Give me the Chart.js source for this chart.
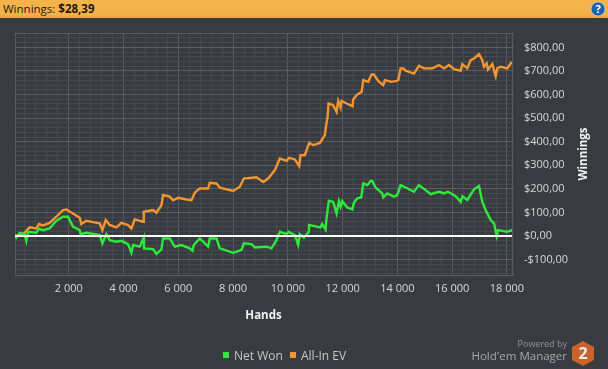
<!DOCTYPE html>
<html>
<head>
<meta charset="utf-8">
<title>Winnings</title>
<script src="https://cdn.jsdelivr.net/npm/chart.js@4"></script>
<style>
  html, body { margin: 0; padding: 0; background: #383c40; overflow: hidden; }
  body { width: 608px; height: 369px; position: relative; font-family: "Open Sans", sans-serif; }
  canvas { position: absolute; left: 0; top: 0; }
  .topbar { position: absolute; left: 0; top: 0; width: 608px; height: 18px; background: linear-gradient(#f6b34c 0, #f5b14a 80%, #e9a543 100%); color: #1d1a12; font-size: 11.5px; line-height: 18px; text-indent: 3px; }
  .help { position: absolute; left: 590px; top: 1px; }
  .y-title { position: absolute; left: 553px; top: 144px; width: 60px; height: 20px; line-height: 20px; text-align: center; transform: rotate(-90deg); color: #f0f0f0; font-size: 11.5px; font-weight: bold; }
  .legend span { position: absolute; top: 347px; color: #c4c6c8; font-size: 12px; line-height: 18px; white-space: nowrap; }
  .legend i { position: absolute; top: 352px; width: 6px; height: 6px; }
  .powered { position: absolute; right: 41px; top: 337px; color: #8e9194; font-size: 9px; line-height: 14px; }
  .manager { position: absolute; right: 41px; top: 347px; color: #a6a8aa; font-size: 11.5px; line-height: 18px; white-space: nowrap; }
  .logo { position: absolute; left: 571px; top: 341px; }
</style>
</head>
<body>
<canvas id="myChart" width="608" height="369"></canvas>
<div class="topbar">Winnings: <b>$28,39</b></div>
<svg class="help" width="16" height="16" viewBox="0 0 16 16">
  <circle cx="8" cy="8" r="7" fill="#1c62a8" stroke="#dfe6ec" stroke-width="0.6"/>
  <text x="8" y="12" text-anchor="middle" font-family="Open Sans" font-weight="bold" font-size="11" fill="#fff">?</text>
</svg>
<div class="y-title">Winnings</div>
<div class="legend" id="legend"></div>
<div class="powered">Powered by</div>
<div class="manager">Hold'em Manager</div>
<svg class="logo" width="24" height="25" viewBox="0 0 24 25">
  <polygon points="12,0 23,6 23,19 12,25 1,19 1,6" fill="#c9622b"/>
  <text x="12" y="18" text-anchor="middle" font-family="Open Sans" font-weight="bold" font-size="16" fill="#eee">2</text>
</svg>

<script>
const evHands = [40, 207, 390, 572, 816, 913, 1060, 1303, 1547, 1790, 1912, 2095, 2400, 2460, 2643, 2887, 3130, 3228, 3350, 3496, 3739, 3922, 4166, 4287, 4409, 4714, 4738, 5079, 5201, 5384, 5444, 5688, 5810, 5993, 6297, 6480, 6602, 6784, 7088, 7150, 7393, 7515, 8002, 8246, 8392, 8855, 9098, 9281, 9525, 9707, 9951, 10048, 10256, 10413, 10463, 10620, 10779, 10925, 11168, 11351, 11388, 11450, 11486, 11654, 11778, 11838, 11925, 11961, 12143, 12362, 12385, 12531, 12692, 12752, 12934, 13056, 13140, 13298, 13481, 13542, 13787, 13970, 14031, 14116, 14214, 14299, 14603, 14786, 14969, 15273, 15517, 15700, 15882, 16065, 16309, 16370, 16552, 16674, 16796, 16978, 17100, 17161, 17259, 17307, 17466, 17587, 17648, 17770, 18014, 18180];
const evValues = [0, 4, 14, 37, 32, 51, 45, 56, 82, 110, 113, 100, 78, 51, 65, 59, 54, 25, 68, 47, 37, 56, 47, 32, 71, 61, 103, 110, 99, 131, 174, 167, 152, 162, 155, 152, 184, 202, 202, 226, 223, 205, 191, 209, 244, 249, 229, 244, 280, 329, 319, 332, 325, 297, 343, 343, 395, 386, 395, 428, 463, 505, 562, 555, 527, 573, 545, 573, 562, 551, 579, 600, 611, 661, 654, 685, 685, 658, 640, 661, 654, 658, 661, 711, 711, 701, 689, 722, 711, 711, 725, 711, 725, 708, 701, 729, 711, 746, 753, 771, 746, 718, 732, 706, 729, 678, 711, 718, 711, 739];

const netHands = [40, 85, 207, 390, 451, 512, 816, 913, 1060, 1303, 1547, 1790, 1973, 2156, 2400, 2436, 2643, 3130, 3228, 3374, 3496, 3739, 3922, 4166, 4287, 4348, 4592, 4738, 4745, 5079, 5201, 5384, 5444, 5688, 5871, 6114, 6419, 6516, 6565, 6784, 7088, 7150, 7393, 7515, 8002, 8307, 8392, 8672, 8794, 9220, 9403, 9585, 9707, 9951, 10024, 10255, 10377, 10438, 10584, 10767, 10775, 11193, 11254, 11376, 11412, 11498, 11656, 11778, 11863, 11924, 11985, 12168, 12350, 12411, 12533, 12679, 12752, 12898, 13020, 13081, 13203, 13446, 13483, 13629, 13873, 13994, 14116, 14299, 14603, 14786, 15030, 15212, 15517, 15700, 15846, 16126, 16309, 16370, 16552, 16796, 16978, 17100, 17222, 17405, 17527, 17624, 17673, 18014, 18160, 18180];
const netValues = [0, -7, 14, 8, -20, 18, 14, 32, 25, 32, 65, 82, 82, 40, 25, 8, 14, 4, -31, 8, -17, -24, -20, -34, -71, -38, -45, -6, -52, -55, -76, -56, -10, -10, -45, -38, -52, -62, -38, -10, -45, -10, -10, -52, -71, -59, -31, -34, -48, -45, -52, -17, 18, 8, 18, 4, -38, 8, -6, 18, 47, 37, 51, 28, 75, 150, 145, 96, 148, 124, 148, 121, 113, 141, 160, 164, 223, 216, 234, 234, 206, 181, 164, 181, 167, 174, 216, 206, 188, 216, 195, 178, 188, 181, 188, 169, 145, 169, 153, 198, 212, 145, 110, 68, 54, 0, 25, 18, 25, 23];

const zeroHands = [38, 18183];
const zeroValues = [0, 0];

const xMin = 38, xMax = 18183, yMin = -165, yMax = 861;
const xMajor = 2000, xMinor = 400, yMajor = 100, yMinor = 20;

const netColor = '#2ee83c';
const evColor = '#f5952f';
const gridMajor = '#5a5e62';
const gridMinor = '#46494d';
const tickColor = '#d6d8da';

function toPoints(xs, ys) {
  return xs.map((x, i) => ({ x: x, y: ys[i] }));
}

function isBig(value, step, min, max) {
  return value % step === 0 || value === min || value === max;
}

function money(v) {
  return (v < 0 ? '-$' : '$') + Math.abs(v) + ',00';
}

function thousands(v) {
  return String(v / 1000) + ' 000';
}

// chart.js starts the steps from min here, so lay them out on round values
function roundTicks(scale, step) {
  const list = [{ value: scale.min }];
  for (let v = Math.ceil(scale.min / step) * step; v < scale.max; v += step) {
    if (v !== scale.min) list.push({ value: v });
  }
  list.push({ value: scale.max });
  scale.ticks = list;
}

const chart = new Chart('myChart', {
  type: 'line',
  data: {
    datasets: [
      { label: 'Zero', data: toPoints(zeroHands, zeroValues), borderColor: '#ffffff', borderWidth: 2, pointRadius: 0, order: 0 },
      { label: 'Net Won', data: toPoints(netHands, netValues), borderColor: netColor, backgroundColor: netColor, borderWidth: 2.4, pointRadius: 0, order: 1 },
      { label: 'All-In EV', data: toPoints(evHands, evValues), borderColor: evColor, backgroundColor: evColor, borderWidth: 2.4, pointRadius: 0, order: 2 }
    ]
  },
  options: {
    responsive: false,
    animation: false,
    devicePixelRatio: 1,
    layout: { padding: { left: 15, top: 33, right: 0, bottom: 46 } },
    plugins: { legend: { display: false }, tooltip: { enabled: false } },
    scales: {
      x: {
        type: 'linear',
        min: xMin,
        max: xMax,
        afterBuildTicks: scale => roundTicks(scale, xMinor),
        afterFit: scale => { scale.height = 48; },
        title: { display: true, text: 'Hands', color: '#f0f0f0', font: { family: 'Open Sans', size: 11.5, weight: 'bold' }, padding: 0 },
        grid: {
          drawTicks: false,
          color: c => isBig(c.tick.value, xMajor, xMin, xMax) ? gridMajor : gridMinor
        },
        border: { display: false },
        ticks: {
          autoSkip: false,
          maxRotation: 0,
          padding: 7,
          color: tickColor,
          font: { family: 'Open Sans', size: 11 },
          callback: v => (v % xMajor === 0 && v !== 0) ? thousands(v) : ''
        }
      },
      y: {
        position: 'right',
        min: yMin,
        max: yMax,
        afterBuildTicks: scale => roundTicks(scale, yMinor),
        afterFit: scale => { scale.width = 96; },
        grid: {
          tickLength: 2,
          color: c => isBig(c.tick.value, yMajor, yMin, yMax) ? gridMajor : gridMinor
        },
        border: { display: false },
        ticks: {
          autoSkip: false,
          padding: 10,
          color: tickColor,
          font: { family: 'Open Sans', size: 11 },
          callback: v => v % yMajor === 0 ? money(v) : ''
        }
      }
    }
  }
});

// legend is plain html so it can sit off centre like the original
const legendBox = document.getElementById('legend');
const legendX = { 'Net Won': 223, 'All-In EV': 290 };
chart.data.datasets.filter(d => d.label in legendX).forEach(d => {
  const x = legendX[d.label];
  legendBox.innerHTML += '<i style="left:' + x + 'px;background:' + d.borderColor + '"></i>' +
    '<span style="left:' + (x + 11) + 'px">' + d.label + '</span>';
});
</script>
</body>
</html>
